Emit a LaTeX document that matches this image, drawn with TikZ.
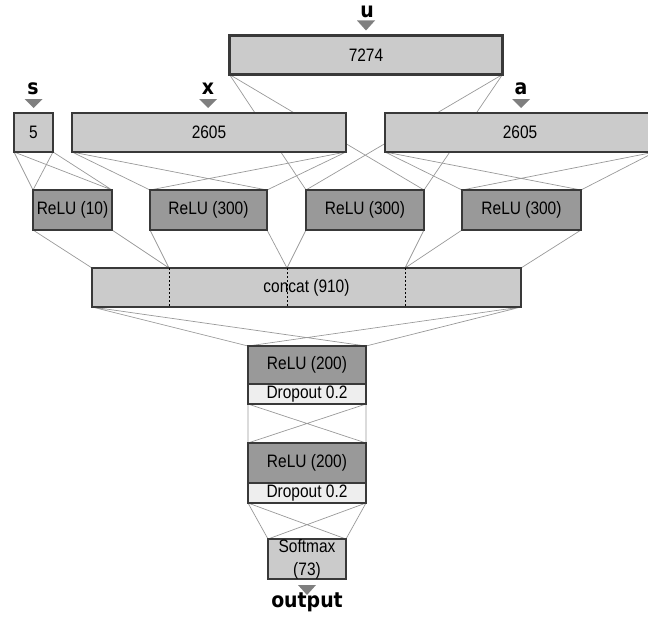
\documentclass[tikz,border=0pt]{standalone}
\usepackage{fontspec}
\setmainfont{Liberation Sans}[FakeStretch=0.86]
\newfontfamily\labelfont{DejaVu Sans}[FakeStretch=0.9]
\usetikzlibrary{backgrounds}
\definecolor{boxgray}{HTML}{CBCBCB}
\definecolor{relugray}{HTML}{999999}
\definecolor{dropgray}{HTML}{EEEEEE}
\definecolor{edgegray}{HTML}{393939}
\definecolor{linkgray}{HTML}{999999}
\definecolor{markgray}{HTML}{7F7F7F}

\begin{document}
\begin{tikzpicture}[
    x=1pt, y=-1pt,
    every node/.style={draw=edgegray, line width=2.6pt, inner sep=0pt, outer sep=0pt, align=center, font=\fontsize{18}{22}\selectfont},
    layer/.style={fill=boxgray, minimum height=39pt},
    relu/.style={fill=relugray, minimum height=40pt},
    drop/.style={fill=dropgray, minimum width=118pt, minimum height=20pt},
    inlabel/.style={draw=none, font=\labelfont\bfseries\fontsize{21}{24}\selectfont},
    link/.style={draw=linkgray, line width=0.7pt},
    divider/.style={draw=black, line width=0.6pt, dash pattern=on 2pt off 2pt},
    marker/.style={fill=markgray}
  ]
    \useasboundingbox (0,0) rectangle (648,618);

    % inputs
    \node[inlabel] (ulab) at (367,12) {u};
    \node[inlabel] (slab) at (33,89) {s};
    \node[inlabel] (xlab) at (208,89) {x};
    \node[inlabel] (alab) at (521,89) {a};

    \node[layer, minimum width=273pt] (u7274) at (366,55) {7274};
    \node[layer, minimum width=39pt] (s5) at (33.5,132.5) {5};
    \node[layer, minimum width=274pt] (xin) at (209,132.5) {2605};
    \node[layer, minimum width=270pt] (ain) at (520,132.5) {2605};

    \fill[marker] (u7274.north) ++(-9,-15) -- ++(18,0) -- ++(-9,10) -- cycle;
    \fill[marker] (s5.north) ++(-9,-14) -- ++(18,0) -- ++(-9,9) -- cycle;
    \fill[marker] (xin.north -| xlab.south) ++(-9,-14) -- ++(18,0) -- ++(-9,9) -- cycle;
    \fill[marker] (ain.north -| alab.south) ++(-9,-14) -- ++(18,0) -- ++(-9,9) -- cycle;

    % first hidden layer
    \node[relu, minimum width=79pt] (relu10) at (72.5,210) {ReLU (10)};
    \node[relu, minimum width=117pt] (relu1) at (208.5,210) {ReLU (300)};
    \node[relu, minimum width=118pt] (relu2) at (365,210) {ReLU (300)};
    \node[relu, minimum width=119pt] (relu3) at (521.5,210) {ReLU (300)};

    \node[layer, minimum width=429pt] (concat) at (306.5,287.5) {concat (910)};
    \coordinate (d1) at (169,268);
    \coordinate (d2) at (287,268);
    \coordinate (d3) at (405,268);
    \draw[divider] (d1) -- (d1 |- concat.south) (d2) -- (d2 |- concat.south) (d3) -- (d3 |- concat.south);

    % dense part
    \node[relu, minimum width=118pt, minimum height=38pt] (hid1) at (307,365) {ReLU (200)};
    \node[drop, anchor=north] (drop1) at (hid1.south) {Dropout 0.2};
    \node[relu, minimum width=118pt] (hid2) at (307,463) {ReLU (200)};
    \node[drop, anchor=north] (drop2) at (hid2.south) {Dropout 0.2};

    \node[layer, minimum width=78pt, minimum height=40pt, font=\fontsize{18}{23}\selectfont] (softmax) at (307,559) {Softmax\\(73)};
    \fill[marker] (softmax.south) ++(-9,6) -- ++(18,0) -- ++(-9,10) -- cycle;
    \node[inlabel] (outlab) at (307,602) {output};

    \begin{scope}[on background layer]
      \foreach \a/\b in {s5/relu10, xin/relu1, ain/relu3, u7274/relu2, concat/hid1, drop1/hid2, drop2/softmax}
        \draw[link] (\a.south west) -- (\b.north west) (\a.south west) -- (\b.north east)
                    (\a.south east) -- (\b.north west) (\a.south east) -- (\b.north east);
      \draw[link] (relu10.south west) -- (concat.north west) (relu10.south east) -- (d1)
                  (relu1.south west) -- (d1) (relu1.south east) -- (d2)
                  (relu2.south west) -- (d2) (relu2.south east) -- (d3)
                  (relu3.south west) -- (d3) (relu3.south east) -- (concat.north east);
    \end{scope}
  \end{tikzpicture}
\end{document}
